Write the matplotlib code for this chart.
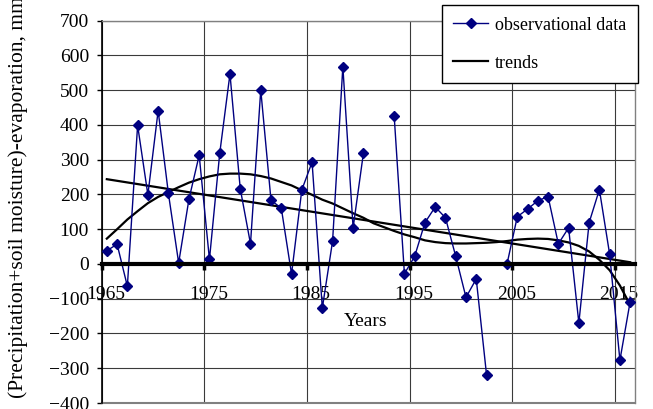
import numpy as np
import matplotlib
matplotlib.use("Agg")
import matplotlib.pyplot as plt
from matplotlib.transforms import ScaledTranslation

plt.rcParams['font.family'] = ['Liberation Serif', 'DejaVu Serif']

nan = np.nan
years = list(range(1965, 2017))
# (precipitation + soil moisture) - evaporation, mm; gaps = no record
pme = [38, 57, -64, 399, 199, 441, 203, 3, 186, 313,
       13, 318, 547, 217, 58, 501, 183, 161, -29, 213,
       293, -127, 66, 568, 104, 318, nan, nan, 427, -28,
       22, 119, 164, 133, 22, -96, -43, -318, nan, 0,
       136, 158, 182, 194, 58, 104, -170, 119, 214, 28,
       -277, -108]
# polynomial trend, one value per year
trend_poly = [73, 100, 128, 152, 175, 193, 207, 221, 234, 244,
              252, 258, 260, 260, 258, 253, 246, 236, 226, 212,
              199, 185, 174, 160, 146, 133, 117, 106, 95, 85,
              77, 68, 63, 60, 59, 59, 60, 61, 63, 66,
              70, 72, 73, 72, 68, 62, 52, 36, 12, -18,
              -62, -118]
# linear trend end points
lin_years = [1965, 2016]
lin_vals = [244, 5]

x = np.array(years) + 0.5

fig = plt.figure(figsize=(6.53, 4.09), dpi=100)
ax = fig.add_axes([101.7 / 653, 1 - 403 / 409, (635.3 - 101.7) / 653, (403 - 20.7) / 409])

ax.set_xlim(1965, 2017)
ax.set_ylim(-400, 700)
ax.set_yticks(range(-400, 701, 100))
ax.set_xticks(range(1965, 2016, 10))

ax.grid(True, color='#3a3a3a', linewidth=0.8)
ax.set_axisbelow(True)

ax.plot(x, pme, color='#000080', linewidth=1.0, marker='D', markersize=5.5,
        label='observational data', clip_on=False, zorder=4)
ax.plot(x, trend_poly, color='black', linewidth=1.6, label='trends', zorder=3)
ax.plot(np.array(lin_years) + 0.5, lin_vals, color='black', linewidth=1.6, zorder=3)

for s in ['top', 'right']:
    ax.spines[s].set_color('#808080')
    ax.spines[s].set_linewidth(1.0)
ax.spines['left'].set_color('black')
ax.spines['left'].set_linewidth(1.2)
ax.spines['bottom'].set_position(('data', 0))
ax.spines['bottom'].set_linewidth(3.0)
ax.spines['bottom'].set_zorder(5)
ax.axhline(-400, color='#808080', linewidth=1.5, clip_on=False)

ax.tick_params(axis='y', direction='out', length=3.6, width=1, pad=5.5, labelsize=14)
ax.tick_params(axis='x', direction='out', length=4, width=2.5, pad=12, labelsize=14)
for lbl in ax.get_xticklabels():
    lbl.set_transform(lbl.get_transform() + ScaledTranslation(0.04, 0, fig.dpi_scale_trans))

fig.text(366 / 653, 1 - 322 / 409, 'Years', ha='center', va='center', fontsize=14)
fig.text(18 / 653, 1 - 398 / 409, '(Precipitation+soil moisture)-evaporation, mm',
         rotation=90, ha='center', va='bottom', fontsize=15.5)

leg = fig.legend(loc='upper left', bbox_to_anchor=(441.7 / 653, 1 - 5 / 409),
                 borderaxespad=0, fontsize=13, frameon=True, fancybox=False,
                 framealpha=1, edgecolor='black', numpoints=1, handlelength=1.9,
                 labelspacing=1.15, borderpad=0.65, handletextpad=0.4)
leg.get_frame().set_linewidth(1.0)

fig.savefig('out.png', dpi=100)
